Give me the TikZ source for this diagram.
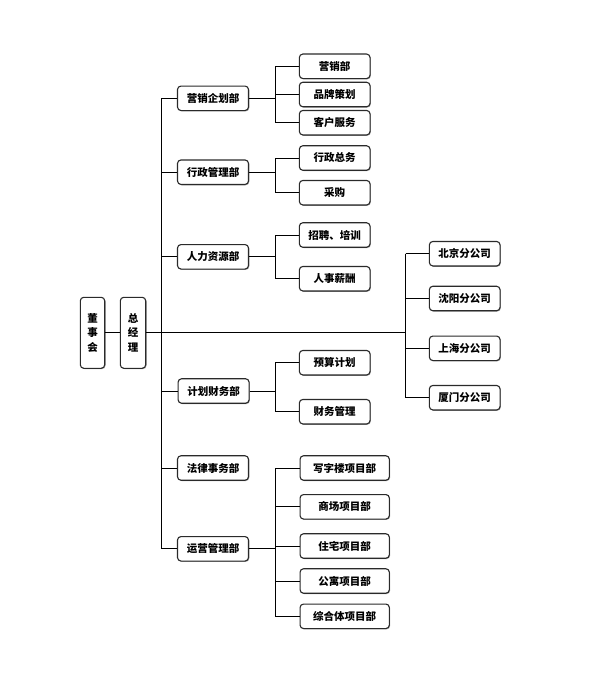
\documentclass[tikz,border=0pt]{standalone}
\usepackage{fontspec}
\setmainfont{Noto Sans CJK SC}
\usetikzlibrary{shadows}
\definecolor{boxline}{HTML}{2A2A2A}
\tikzset{
  x=1pt,y=-1pt,
  orgbox/.style={draw=boxline, line width=1.1pt, rounded corners=3.5pt, fill=white,
    inner sep=0pt, font=\fontsize{10.5}{12}\selectfont\bfseries,
    general shadow={shadow xshift=0.8pt, shadow yshift=-0.8pt, fill=black!35}},
  lvone/.style={orgbox, minimum width=71pt, minimum height=24.5pt},
  leaf/.style={orgbox, minimum width=70.7pt, minimum height=24.5pt},
  leafw/.style={orgbox, minimum width=89.3pt, minimum height=24.5pt},
  vbox/.style={orgbox, minimum height=71pt, align=center,
    font=\fontsize{10.5}{14.5}\selectfont\bfseries},
  conn/.style={draw=black, line width=0.9pt},
}
\begin{document}
\begin{tikzpicture}
\useasboundingbox (0,0) rectangle (600,677);
\fill[white] (0,0) rectangle (600,677);

% coordinates for vertical connector lines
\coordinate (tr) at (161.7,0);
\coordinate (sb) at (275.3,0);
\coordinate (br) at (405.5,0);

% top of hierarchy
\node[vbox, minimum width=24.4pt] (dsh) at (92.5,332.8) {董\\事\\会};
\node[vbox, minimum width=25.4pt] (zjl) at (133,332.8) {总\\经\\理};

% level one
\node[lvone] (a) at (213,98.3) {营销企划部};
\node[lvone] (b) at (213,172.2) {行政管理部};
\node[lvone] (c) at (213,256.8) {人力资源部};
\node[lvone] (d) at (213.6,391) {计划财务部};
\node[lvone] (e) at (213,468) {法律事务部};
\node[lvone] (f) at (213,548.8) {运营管理部};

% leaves
\node[leaf] (a1) at (334.7,66.3) {营销部};
\node[leaf] (a2) at (334.7,94.5) {品牌策划};
\node[leaf] (a3) at (334.7,122.7) {客户服务};
\node[leaf] (b1) at (334.7,158) {行政总务};
\node[leaf] (b2) at (334.7,192.7) {采购};
\node[leaf] (c1) at (334.7,235) {招聘、培训};
\node[leaf] (c2) at (334.7,278.7) {人事薪酬};
\node[leaf] (d1) at (334.7,362.7) {预算计划};
\node[leaf] (d2) at (334.7,411.7) {财务管理};
\node[leafw] (f1) at (344.7,468) {写字楼项目部};
\node[leafw] (f2) at (344.7,506.8) {商场项目部};
\node[leafw] (f3) at (344.7,546) {住宅项目部};
\node[leafw] (f4) at (344.7,581) {公寓项目部};
\node[leafw] (f5) at (344.7,616.3) {综合体项目部};

% branches
\node[leaf] (g1) at (464.7,253.7) {北京分公司};
\node[leaf] (g2) at (464.7,298.5) {沈阳分公司};
\node[leaf] (g3) at (464.7,348.3) {上海分公司};
\node[leaf] (g4) at (464.7,397.7) {厦门分公司};

% connectors
\draw[conn] (dsh.east) -- (zjl.west);
\draw[conn] (zjl.east) -- (zjl.east -| br);
\draw[conn] (a.west -| tr) -- (f.west -| tr);
\foreach \n in {a,b,c,d,e,f} \draw[conn] (\n.west) -- (\n.west -| tr);

\foreach \n in {g1,g2,g3,g4} \draw[conn] (g1.west -| br) |- (\n.west);

\foreach \n in {a1,a2,a3} \draw[conn] (a.east) -- (a.east -| sb) |- (\n.west);
\draw[conn] (a1.west -| sb) -- (a3.west -| sb);
\foreach \n in {b1,b2} \draw[conn] (b.east) -- (b.east -| sb) |- (\n.west);
\foreach \n in {c1,c2} \draw[conn] (c.east) -- (c.east -| sb) |- (\n.west);
\foreach \n in {d1,d2} \draw[conn] (d.east) -- (d.east -| sb) |- (\n.west);
\foreach \n in {f1,f2,f3,f4,f5} \draw[conn] (f.east) -- (f.east -| sb) |- (\n.west);
\end{tikzpicture}
\end{document}
